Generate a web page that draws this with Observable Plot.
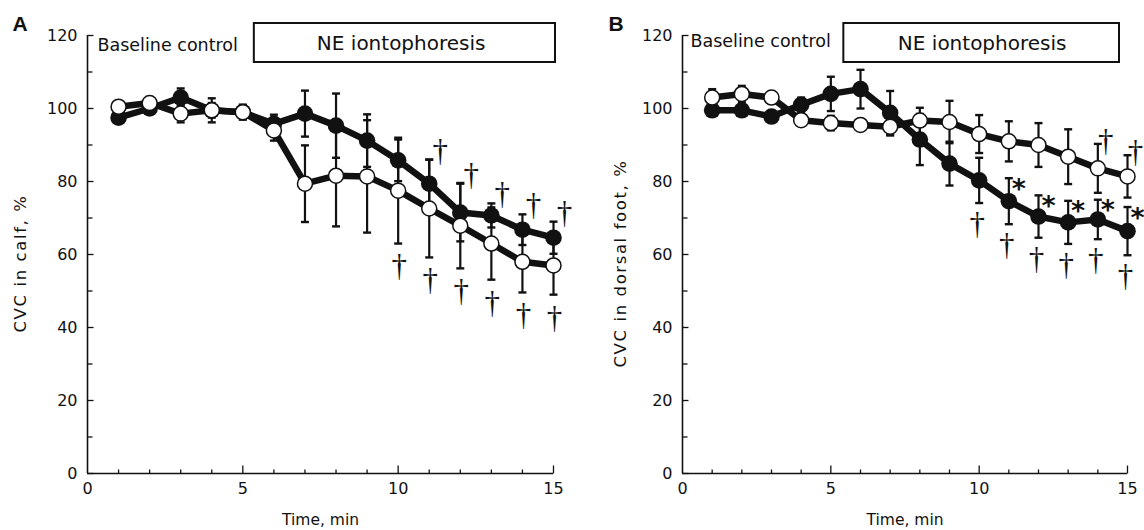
<!DOCTYPE html>
<html>
<head>
<meta charset="utf-8">
<script src="https://cdn.jsdelivr.net/npm/d3@7"></script>
<script src="https://cdn.jsdelivr.net/npm/@observablehq/plot@0.6"></script>
<style>
  html, body { margin: 0; padding: 0; background: #fff; }
  #wrap { display: flex; width: 1144px; height: 530px; }
</style>
</head>
<body>
<div id="wrap"></div>
<script>
// ---- data ----
const time = [1, 2, 3, 4, 5, 6, 7, 8, 9, 10, 11, 12, 13, 14, 15];

// Panel A: CVC in calf (%)
const calfFilled   = [97.5, 100, 103, 99.5, 99, 95.8, 98.6, 95.3, 91.2, 85.8, 79.4, 71.5, 70.7, 66.8, 64.6];
const calfFilledSD = [1.5, 1.5, 2.5, 2, 2, 2.5, 6.3, 8.8, 7.2, 5.7, 6.6, 7.9, 3.3, 4.2, 4.4];
const calfOpen     = [100.5, 101.5, 98.6, 99.5, 99, 94, 79.4, 81.6, 81.4, 77.5, 72.6, 67.9, 63, 58, 57];
const calfOpenSD   = [1.5, 1.5, 2.4, 3.3, 2, 2.8, 10.5, 13.9, 15.4, 14.5, 13.4, 11.7, 9.9, 8.4, 8];
const calfFilledDagger = [11, 12, 13, 14, 15];
const calfOpenDagger   = [10, 11, 12, 13, 14, 15];

// Panel B: CVC in dorsal foot (%)
const footFilled   = [99.5, 99.5, 97.8, 101, 104, 105.3, 98.8, 91.5, 84.9, 80.3, 74.6, 70.4, 68.8, 69.6, 66.4];
const footFilledSD = [1.5, 1.5, 1.5, 2, 4.7, 5.3, 6, 7, 6, 6.2, 6.3, 5.8, 5.9, 5.4, 6.6];
const footOpen     = [103, 104, 103, 96.8, 96, 95.5, 95, 96.7, 96.3, 93, 91, 90, 86.8, 83.6, 81.4];
const footOpenSD   = [2.3, 2.2, 1.5, 1.5, 2, 1.5, 2.4, 3.5, 5.8, 5.2, 5.5, 6, 7.5, 6.7, 5.8];
const footOpenDagger   = [14, 15];
const footFilledDagger = [10, 11, 12, 13, 14, 15];
const footFilledStar   = [11, 12, 13, 14, 15];

// axes / annotation text
const xTicks = [0, 5, 10, 15];
const xMinor = [1, 2, 3, 4, 6, 7, 8, 9, 11, 12, 13, 14];
const yTicks = [0, 20, 40, 60, 80, 100, 120];
const yMinor = [10, 30, 50, 70, 90, 110];
const nePeriod = [5, 15];
const neLabel = "NE iontophoresis";
const baseLabel = "Baseline control";
const xLabel = "Time, min";

// ---- drawing ----
const ink = "#111";
const FONT = "DejaVu Sans";
const hLine = w => ({draw(ctx) { ctx.moveTo(-w, 0); ctx.lineTo(w, 0); }});
const rightTick = len => ({draw(ctx) { ctx.moveTo(0, 0); ctx.lineTo(len, 0); }});
const upTick = len => ({draw(ctx) { ctx.moveTo(0, 0); ctx.lineTo(0, -len); }});

function panel(cfg) {
  const rows = time.map((t, i) => ({t, f: cfg.filled[i], fsd: cfg.filledSD[i], o: cfg.open[i], osd: cfg.openSD[i]}));
  const pick = ts => ts.map(t => rows[t - 1]);
  const marks = [
    // NE period box
    Plot.rect([nePeriod], {x1: d => d[0], x2: d => d[1], y1: () => 120, y2: () => 120,
      insetLeft: cfg.boxL, insetRight: cfg.boxR, insetTop: -12, insetBottom: -27,
      fill: "white", stroke: ink, strokeWidth: 2}),
    Plot.text([neLabel], {x: () => (nePeriod[0] + nePeriod[1]) / 2, y: () => 120, text: d => d,
      dx: 3, dy: 8, fontSize: 20, fontFamily: FONT, fill: ink, lineAnchor: "middle"}),
    Plot.text([baseLabel], {frameAnchor: "top-left", text: d => d, dx: cfg.baseDx, dy: cfg.baseDy,
      textAnchor: "start", lineAnchor: "middle", fontSize: 17.5, fontFamily: FONT, fill: ink}),
    // panel letter
    Plot.text([cfg.letter], {frameAnchor: "top-left", text: d => d, dx: cfg.letterDx, dy: -5,
      textAnchor: "start", lineAnchor: "bottom", fontSize: 21, fontWeight: "bold", fontFamily: "Liberation Sans", fill: ink}),
    // axis labels
    Plot.text([cfg.ylabel], {frameAnchor: "left", text: d => d, rotate: -90, dx: cfg.ylabDx, dy: 9,
      textAnchor: "middle", lineAnchor: "middle", fontSize: 16.5, fontFamily: FONT, fill: ink}),
    Plot.text([xLabel], {frameAnchor: "bottom", text: d => d, dy: 47,
      textAnchor: "middle", lineAnchor: "middle", fontSize: 15.5, fontFamily: FONT, fill: ink}),
    // axis lines and inward ticks
    Plot.ruleX([0], {stroke: ink, strokeWidth: 1.6}),
    Plot.ruleY([0], {stroke: ink, strokeWidth: 1.6}),
    Plot.dot(yTicks, {x: () => 0, y: d => d, symbol: rightTick(6), fill: "none", stroke: ink, strokeWidth: 1.3}),
    Plot.dot(yMinor, {x: () => 0, y: d => d, symbol: rightTick(5), fill: "none", stroke: ink, strokeWidth: 1.3}),
    Plot.dot(xTicks.slice(1), {x: d => d, y: () => 0, symbol: upTick(8), fill: "none", stroke: ink, strokeWidth: 1.3}),
    Plot.dot(xMinor, {x: d => d, y: () => 0, symbol: upTick(4), fill: "none", stroke: ink, strokeWidth: 1.3}),
    // error bars
    Plot.ruleX(rows, {x: "t", y1: d => d.f - d.fsd, y2: d => d.f + d.fsd, stroke: ink, strokeWidth: 2.2}),
    Plot.ruleX(rows, {x: "t", y1: d => d.o - d.osd, y2: d => d.o + d.osd, stroke: ink, strokeWidth: 2.2}),
    Plot.dot(rows, {x: "t", y: d => d.f + d.fsd, symbol: hLine(4), fill: "none", stroke: ink, strokeWidth: 2.4}),
    Plot.dot(rows, {x: "t", y: d => d.f - d.fsd, symbol: hLine(4), fill: "none", stroke: ink, strokeWidth: 2.4}),
    Plot.dot(rows, {x: "t", y: d => d.o + d.osd, symbol: hLine(4), fill: "none", stroke: ink, strokeWidth: 2.4}),
    Plot.dot(rows, {x: "t", y: d => d.o - d.osd, symbol: hLine(4), fill: "none", stroke: ink, strokeWidth: 2.4}),
    // lines
    Plot.line(rows, {x: "t", y: "f", stroke: ink, strokeWidth: 6.5}),
    Plot.line(rows, {x: "t", y: "o", stroke: ink, strokeWidth: 6.5}),
    // points
    Plot.dot(rows, {x: "t", y: "f", r: 8.3, fill: ink, stroke: "none"}),
    Plot.dot(rows, {x: "t", y: "o", r: 7.5, fill: "white", stroke: ink, strokeWidth: 1.5})
  ];
  for (const m of cfg.marks(pick)) marks.push(m);
  const svg = Plot.plot({
    width: 572, height: 530,
    marginTop: 35, marginBottom: 57, marginLeft: cfg.ml, marginRight: cfg.mr,
    x: {domain: [0, 15], ticks: xTicks, tickSize: 0, tickPadding: 9, label: null},
    y: {domain: [0, 120], ticks: yTicks, tickSize: 0, tickPadding: 10, label: null},
    style: {fontFamily: FONT, fontSize: "16px", color: ink, background: "white", overflow: "visible"},
    marks
  });
  d3.select(svg).selectAll("text")
    .filter(function() { return this.textContent === cfg.ylabel; })
    .style("letter-spacing", "1.6px");
  return svg;
}

const dagger = {text: () => "\u2020", fontSize: 31, fontFamily: "Liberation Serif", fill: ink, lineAnchor: "middle"};

const A = panel({
  letter: "A", ylabel: "CVC in calf, %",
  filled: calfFilled, filledSD: calfFilledSD, open: calfOpen, openSD: calfOpenSD,
  ml: 87, mr: 19, boxL: 11.5, boxR: -2, baseDx: 10, baseDy: 10, letterDx: -75, ylabDx: -67,
  marks: pick => [
    Plot.text(pick(calfFilledDagger), {x: "t", y: d => d.f + d.fsd, dx: 11, dy: -9, ...dagger}),
    Plot.text(pick(calfOpenDagger), {x: "t", y: d => d.o - d.osd, dx: 1, dy: 23, ...dagger})
  ]
});

const B = panel({
  letter: "B", ylabel: "CVC in dorsal foot, %",
  filled: footFilled, filledSD: footFilledSD, open: footOpen, openSD: footOpenSD,
  ml: 110, mr: 17, boxL: 13, boxR: 8, baseDx: 8, baseDy: 6, letterDx: -74, ylabDx: -62,
  marks: pick => [
    Plot.text(pick(footOpenDagger), {x: "t", y: d => d.o + d.osd, dx: 8, dy: -3, ...dagger}),
    Plot.text(pick(footFilledDagger), {x: "t", y: d => d.f - d.fsd, dx: -2, dy: 21, ...dagger}),
    Plot.text(pick(footFilledStar), {x: "t", y: d => d.f + d.fsd, text: () => "*", dx: 10, dy: 11,
      fontSize: 27, fontWeight: "bold", fontFamily: "DejaVu Sans", fill: ink, lineAnchor: "middle"})
  ]
});

document.getElementById("wrap").append(A, B);
</script>
</body>
</html>
